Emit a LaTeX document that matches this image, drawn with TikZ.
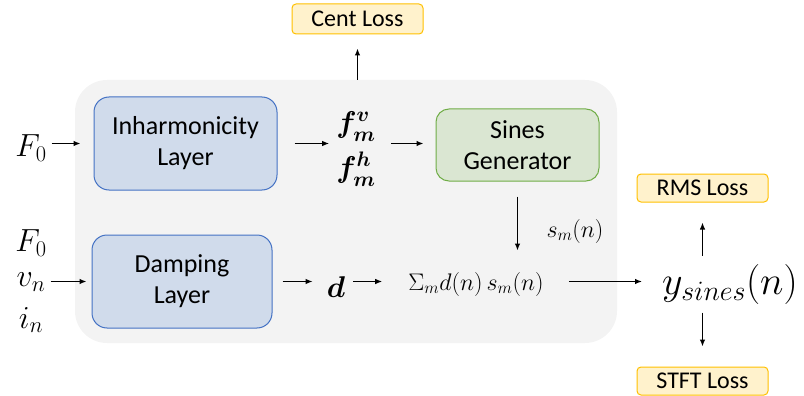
\RequirePackage{fix-cm}
\documentclass[tikz,border=0pt]{standalone}
\usepackage{amsmath}
\usepackage[no-math]{fontspec}
\newfontfamily\carlito{Carlito}
\usetikzlibrary{arrows.meta}
\definecolor{bggray}{HTML}{F3F3F3}
\definecolor{bluefill}{HTML}{D0DBEB}
\definecolor{blueline}{HTML}{4472C4}
\definecolor{greenfill}{HTML}{DAE6D2}
\definecolor{greenline}{HTML}{70AD47}
\definecolor{yelfill}{HTML}{FFF2CC}
\definecolor{yelline}{HTML}{FFC000}
\tikzset{
  layerbox/.style={draw=blueline, fill=bluefill, line width=1pt, rounded corners=15pt,
    inner sep=0pt, align=center, font=\carlito\fontsize{26}{31}\selectfont},
  genbox/.style={draw=greenline, fill=greenfill, line width=1pt, rounded corners=13pt,
    inner sep=0pt, align=center, font=\carlito\fontsize{26}{31}\selectfont},
  lossbox/.style={draw=yelline, fill=yelfill, line width=1pt, rounded corners=4pt,
    inner sep=0pt, align=center, font=\carlito\fontsize{24}{28}\selectfont},
  bigmath/.style={inner sep=0pt, font=\fontsize{32}{36}\selectfont},
  midmath/.style={inner sep=0pt, font=\fontsize{30}{34}\selectfont, align=center},
  smallmath/.style={inner sep=0pt, font=\fontsize{24}{28}\selectfont},
  arr/.style={-{Latex[length=7pt,width=5.5pt]}, line width=1.2pt},
}
\begin{document}
\begin{tikzpicture}[x=1pt,y=-1pt]
\useasboundingbox (0,0) rectangle (804,396);
% background panel
\node[fill=bggray, rounded corners=32pt, minimum width=542pt, minimum height=263pt, inner sep=0pt] (bg) at (346,211.5) {};
% boxes
\node[layerbox, minimum width=183pt, minimum height=93pt] (inh) at (185.5,143.5) {Inharmonicity\\Layer};
\node[layerbox, minimum width=180pt, minimum height=93pt] (damp) at (182,281.5) {Damping\\Layer};
\node[genbox, minimum width=163pt, minimum height=72pt] (sines) at (517.5,145) {Sines\\Generator};
\node[lossbox, minimum width=131pt, minimum height=30pt] (cent) at (357.5,19) {Cent Loss};
\node[lossbox, minimum width=131pt, minimum height=28pt] (rms) at (702.5,188) {RMS Loss};
\node[lossbox, minimum width=131pt, minimum height=28pt] (stft) at (702.5,381) {STFT Loss};
% math labels
\node[bigmath] (f0a) at (31,148) {$F_0$};
\node[midmath] (fvh) at (356,149) {$\boldsymbol{f_m^v}$\\[9pt]$\boldsymbol{f_m^h}$};
\node[bigmath] (f0b) at (31,243) {$F_0$};
\node[bigmath] (vn) at (31,282) {$v_n$};
\node[bigmath] (in) at (31,320) {$i_n$};
\node[midmath] (d) at (336,287) {$\boldsymbol{d}$};
\node[smallmath] (sum) at (476,284) {$\Sigma_m d(n)\, s_m(n)$};
\node[smallmath] (sm) at (575,231) {$s_m(n)$};
\node[inner sep=0pt, font=\fontsize{40}{44}\selectfont] (y) at (730,284) {$y_{sines}(n)$};
% arrows
\draw[arr] ([xshift=5pt]f0a.east |- inh.center) -- ([xshift=-13pt]inh.west);
\draw[arr] ([xshift=17pt]inh.east) -- ([xshift=-7pt]fvh.west |- inh.east);
\draw[arr] ([xshift=15pt]fvh.east |- inh.east) -- ([xshift=-12pt]sines.west |- inh.east);
\draw[arr] (bg.north -| cent) -- ([yshift=-14pt]cent.south);
\draw[arr] ([yshift=-15pt]sines.south) -- ([yshift=-69pt]sines.south);
\draw[arr] ([xshift=5pt]vn.east |- damp.east) -- ([xshift=-5pt]damp.west);
\draw[arr] ([xshift=10pt]damp.east) -- ([xshift=-14pt]d.west |- damp.east);
\draw[arr] ([xshift=8pt]d.east |- damp.east) -- ([xshift=-26pt]sum.west |- damp.east);
\draw[arr] ([xshift=25pt]sum.east |- damp.east) -- ([xshift=-20pt]y.west |- damp.east);
\draw[arr] ([yshift=-53pt]rms.south) -- ([yshift=-20pt]rms.south);
\draw[arr] ([yshift=54pt]stft.north) -- ([yshift=20pt]stft.north);
\end{tikzpicture}
\end{document}
